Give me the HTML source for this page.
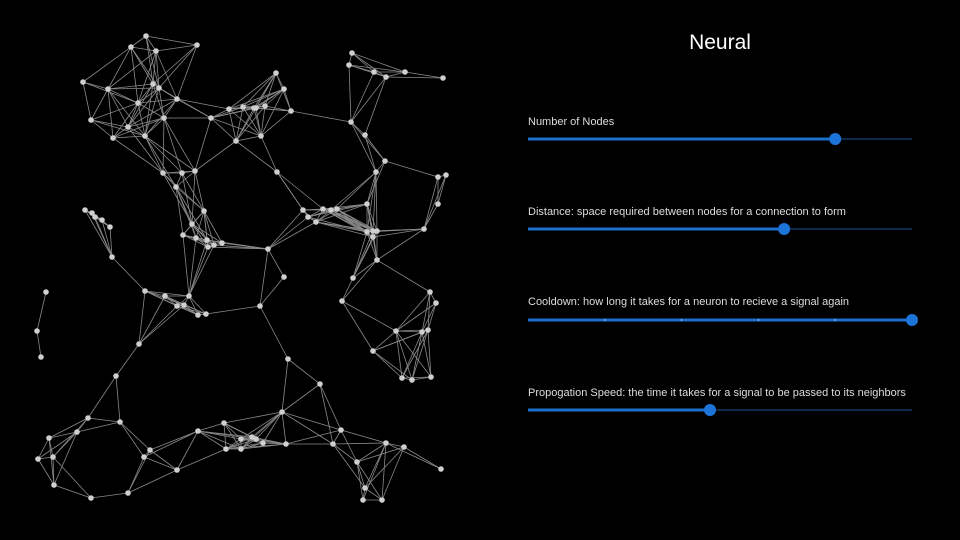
<!DOCTYPE html>
<html><head><meta charset="utf-8"><style>
html,body{margin:0;padding:0;background:#000;width:960px;height:540px;overflow:hidden;font-family:"Liberation Sans",sans-serif}
#title{position:absolute;left:620px;top:31px;width:200px;text-align:center;color:#fff;font-size:21px}
.lbl{position:absolute;left:528px;color:#ddd;font-size:11px}
</style></head><body>
<svg id="net" width="960" height="540" style="position:absolute;left:0;top:0"></svg>
<div id="title">Neural</div>
<div class="lbl" style="top:116px">Number of Nodes</div>
<div class="lbl" style="top:206px">Distance: space required between nodes for a connection to form</div>
<div class="lbl" style="top:296px">Cooldown: how long it takes for a neuron to recieve a signal again</div>
<div class="lbl" style="top:387px">Propogation Speed: the time it takes for a signal to be passed to its neighbors</div>
<script>
const nodeX=[146,131,197,156,83,108,153,159,177,138,91,128,145,113,164,211,229,254,236,182,163,276,284,243,256,265,291,261,195,176,277,
352,349,374,386,405,443,351,365,385,376,438,446,438,367,323,331,337,316,367,373,377,373,424,377,353,342,430,436,396,422,428,373,402,412,431,
85,92,95,102,110,112,204,192,183,196,207,214,222,208,268,284,145,165,189,184,177,198,206,260,139,46,37,41,116,288,320,303,308,
88,120,77,49,38,53,54,91,128,150,144,177,198,224,226,241,252,241,256,263,282,286,341,333,386,404,357,365,363,382,441];
const nodeY=[36,47,45,51,82,89,84,88,99,103,120,127,136,138,118,118,109,108,141,173,173,73,89,107,108,106,111,136,171,187,172,
53,65,72,77,72,78,122,135,161,172,177,175,204,204,209,210,209,222,232,231,231,237,229,260,278,301,292,303,331,332,330,351,378,380,377,
210,213,217,220,227,257,211,224,235,238,240,245,243,247,249,277,291,296,296,305,306,315,314,306,344,292,331,357,376,359,384,210,217,
418,422,432,438,459,457,485,498,493,450,457,470,431,423,449,449,437,439,439,443,412,444,430,444,443,447,462,488,500,500,469];
const linkDistance=[62];
const sliderNames=["nodes","distance","cooldown","speed"];
const sliderValues=[0.8,0.667,1.0,0.474];
const sliderY=[139,229,320,410];
const NS="http://www.w3.org/2000/svg";
const svg=document.getElementById('net');
const sx=v=>528+v*384;
for(let i=0;i<nodeX.length;i++)for(let j=i+1;j<nodeX.length;j++){
 const d=Math.hypot(nodeX[i]-nodeX[j],nodeY[i]-nodeY[j]);
 if(d<linkDistance[0]){const l=document.createElementNS(NS,'line');
 
 
 l.setAttribute('x1',nodeX[i]);l.setAttribute('y1',nodeY[i]);l.setAttribute('x2',nodeX[j]);l.setAttribute('y2',nodeY[j]);
 l.setAttribute('stroke','#8a8a8a');l.setAttribute('stroke-width','0.8');svg.appendChild(l);}
}
for(let i=0;i<nodeX.length;i++){const c=document.createElementNS(NS,'circle');
 
 
 c.setAttribute('cx',nodeX[i]);c.setAttribute('cy',nodeY[i]);c.setAttribute('r','2.8');c.setAttribute('fill','#cfcfcf');svg.appendChild(c);}
for(let k=0;k<sliderNames.length;k++){
 const y=sliderY[k],x=sx(sliderValues[k]);
 const g=document.createElementNS(NS,'g');
 
 
 const t=document.createElementNS(NS,'rect');t.setAttribute('x',528);t.setAttribute('y',y-1);t.setAttribute('width',384);t.setAttribute('height',2);t.setAttribute('fill','#0d2a4d');g.appendChild(t);
 const a=document.createElementNS(NS,'rect');a.setAttribute('x',528);a.setAttribute('y',y-1.5);a.setAttribute('width',x-528);a.setAttribute('height',3);a.setAttribute('fill','#1c6fcf');g.appendChild(a);
 if(k===2){for(let m=1;m<5;m++){const d=document.createElementNS(NS,'rect');d.setAttribute('x',528+m*76.8-0.5);d.setAttribute('y',y-1);d.setAttribute('width',1);d.setAttribute('height',2);d.setAttribute('fill','#9cc3ee');g.appendChild(d);}}
 const th=document.createElementNS(NS,'circle');th.setAttribute('cx',x);th.setAttribute('cy',y);th.setAttribute('r',6);th.setAttribute('fill','#1c74d8');g.appendChild(th);
 svg.appendChild(g);
}
</script>
</body></html>
